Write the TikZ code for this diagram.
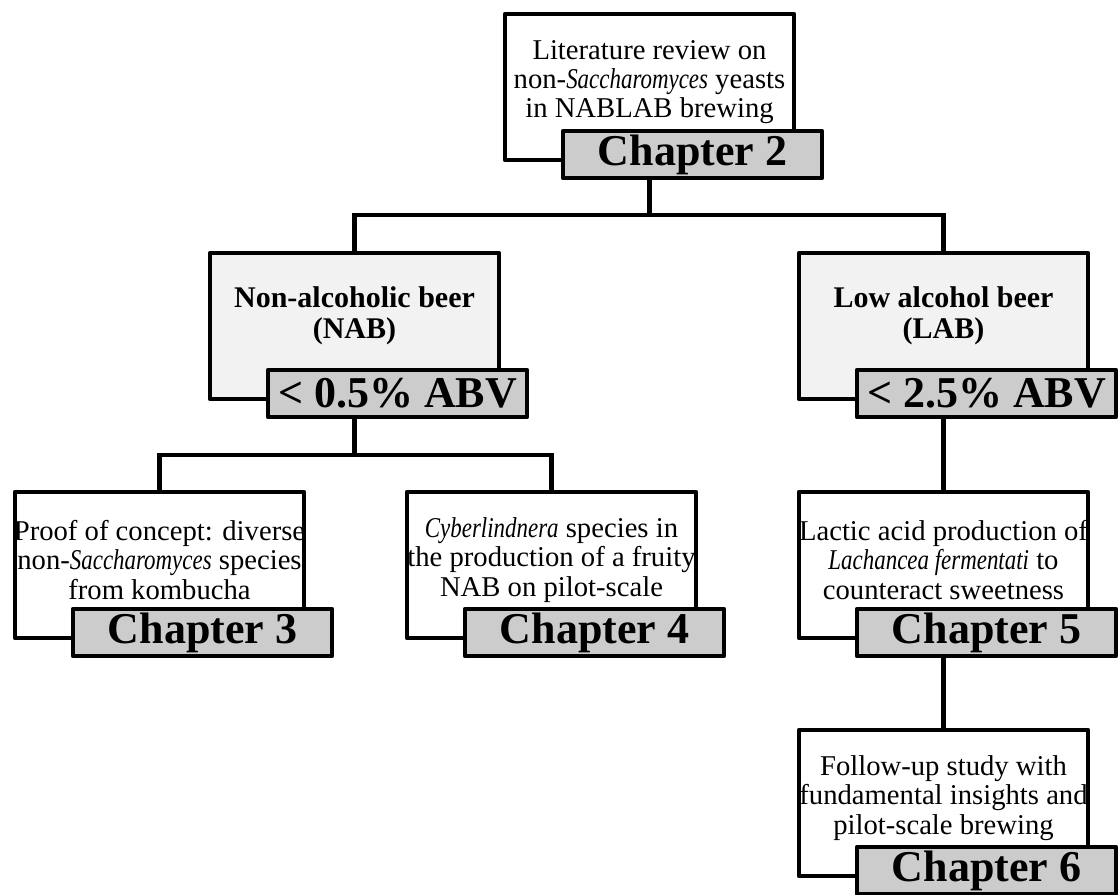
\documentclass[tikz,border=0pt]{standalone}
\usepackage{fontspec}
\setmainfont[ItalicFeatures={FakeStretch=0.8}]{Liberation Serif}
\usetikzlibrary{backgrounds}
\definecolor{boxgray}{RGB}{242,242,242}
\definecolor{labgray}{RGB}{204,204,204}
\tikzset{
  chbox/.style={draw=black, line width=3.4pt, line join=round, fill=white,
    minimum width=216.75pt, minimum height=109.5pt, inner sep=0pt},
  graybox/.style={chbox, fill=boxgray},
  chlabel/.style={draw=black, line width=3.4pt, line join=round, fill=labgray,
    minimum width=194.25pt, minimum height=35.25pt, inner sep=0pt,
    font=\fontsize{33}{36}\selectfont\bfseries},
  chtext/.style={align=center, inner sep=0pt, font=\fontsize{21.5}{22}\selectfont},
  ttext/.style={align=center, inner sep=0pt, font=\fontsize{22.5}{23.5}\selectfont\bfseries},
  conn/.style={draw=black, line width=3.4pt, line cap=rect, line join=miter}
}
\begin{document}
\begin{tikzpicture}[x=0.75pt,y=-0.75pt]
\useasboundingbox (0,0) rectangle (1120,895);
% Chapter 2
\node[chbox] (b2) at (649.5,87) {};
\node[chtext] (t2) at (649.5,82) {Literature review on\\non-\textit{Saccharomyces} yeasts\\in NABLAB brewing};
\node[chlabel] (l2) at (692.5,154.5) {Chapter 2};
% NAB
\node[graybox] (nab) at (354.5,326) {};
\node[ttext] (tnab) at (354.5,316) {Non-alcoholic beer\\(NAB)};
\node[chlabel] (lnab) at (397.5,393.5) {< 0.5\% ABV};
% LAB
\node[graybox] (lab) at (943.5,326) {};
\node[ttext] (tlab) at (943.5,316) {Low alcohol beer\\(LAB)};
\node[chlabel] (llab) at (986.5,393.5) {< 2.5\% ABV};
% Chapter 3
\node[chbox] (b3) at (159.5,565) {};
\node[chtext] (t3) at (159.5,560) {Proof of concept: diverse\\non-\textit{Saccharomyces} species\\from kombucha};
\node[chlabel] (l3) at (202.5,632.5) {Chapter 3};
% Chapter 4
\node[chbox] (b4) at (551.5,565) {};
\node[chtext] (t4) at (551.5,560) {\textit{Cyberlindnera} species in\\the production of a fruity\\NAB on pilot-scale};
\node[chlabel] (l4) at (594.5,632.5) {Chapter 4};
% Chapter 5
\node[chbox] (b5) at (943.5,565) {};
\node[chtext] (t5) at (943.5,560) {Lactic acid production of\\\textit{Lachancea fermentati} to\\counteract sweetness};
\node[chlabel] (l5) at (986.5,632.5) {Chapter 5};
% Chapter 6
\node[chbox] (b6) at (943.5,803) {};
\node[chtext] (t6) at (943.5,798) {Follow-up study with\\fundamental insights and\\pilot-scale brewing};
\node[chlabel] (l6) at (986.5,870.5) {Chapter 6};
% bus coordinates
\coordinate (bus1) at (0,215);
\coordinate (bus2) at (0,455);
\begin{scope}[on background layer]
  \draw[conn] (l2.south -| b2.south) -- (bus1 -| b2.south) -| (nab.north);
  \draw[conn] (bus1 -| b2.south) -| (lab.north);
  \draw[conn] (lnab.south -| nab.south) -- (bus2 -| nab.south) -| (b3.north);
  \draw[conn] (bus2 -| nab.south) -| (b4.north);
  \draw[conn] (llab.south -| lab.south) -- (b5.north);
  \draw[conn] (l5.south -| b5.south) -- (b6.north);
\end{scope}
\end{tikzpicture}
\end{document}
